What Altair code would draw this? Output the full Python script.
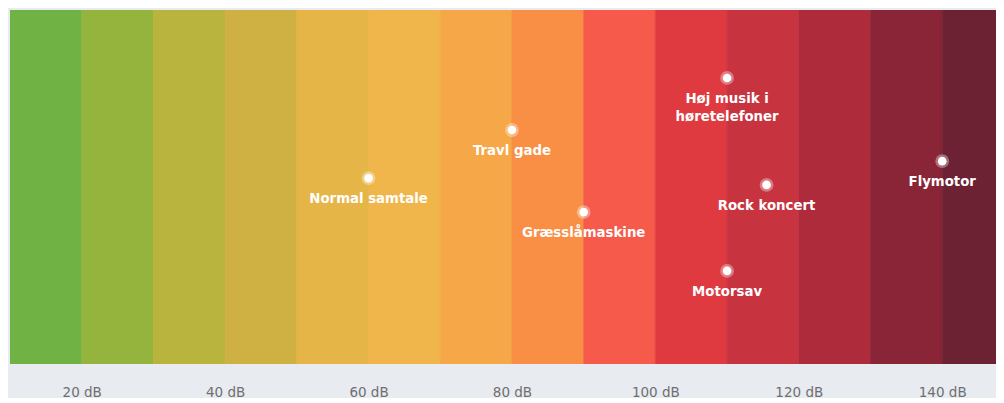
import altair as alt
import pandas as pd

# Bands (10 dB each)
band_start = [10, 20, 30, 40, 50, 60, 70, 80, 90, 100, 110, 120, 130, 140]
band_end = [20, 30, 40, 50, 60, 70, 80, 90, 100, 110, 120, 130, 140, 150]
band_color = ["#70b243", "#95b43e", "#b8b43d", "#cfb043", "#e6b547", "#f0b64b",
              "#f6a747", "#f98e45", "#f55a4b", "#de3a40", "#c7333f", "#ae2b3c",
              "#8a2537", "#6d2233"]

# Sound sources
names = ["Normal samtale", "Travl gade", "Græsslåmaskine", "Høj musik i\nhøretelefoner",
         "Rock koncert", "Motorsav", "Flymotor"]
db = [60, 80, 90, 110, 115.5, 110, 140]
level = [52.5, 66.1, 42.9, 80.8, 50.6, 26.3, 57.3]

tick_values = [20, 40, 60, 80, 100, 120, 140]

bands = pd.DataFrame({"start": band_start, "end": band_end, "color": band_color})
pts = pd.DataFrame({"name": names, "db": db, "level": level})

xscale = alt.Scale(domain=[10, 147.5], nice=False, zero=False)
yscale = alt.Scale(domain=[0, 100], nice=False, zero=False)

base_x_axis = alt.Axis(values=tick_values, labelExpr="datum.value + ' dB'", title=None,
                       domain=False, ticks=False, grid=False, labelPadding=21,
                       labelFont="DejaVu Sans", labelFontSize=13.5, labelColor="#6f6f72")

rects = alt.Chart(bands).mark_rect(clip=True, strokeWidth=0.6).encode(
    x=alt.X("start:Q", scale=xscale, axis=base_x_axis),
    x2="end:Q",
    y=alt.value(0),
    y2=alt.value(354),
    color=alt.Color("color:N", scale=None),
    stroke=alt.Stroke("color:N", scale=None),
)

halo = alt.Chart(pts).mark_circle(color="white", size=190, opacity=0.35).encode(
    x=alt.X("db:Q", scale=xscale),
    y=alt.Y("level:Q", scale=yscale, axis=None),
)

dots = alt.Chart(pts).mark_circle(color="white", size=75, opacity=1).encode(
    x=alt.X("db:Q", scale=xscale),
    y=alt.Y("level:Q", scale=yscale, axis=None),
)

labels = alt.Chart(pts).mark_text(color="white", font="DejaVu Sans", fontSize=13.3,
                                  fontWeight="bold", baseline="top", align="center",
                                  dy=14, lineBreak="\n", lineHeight=18).encode(
    x=alt.X("db:Q", scale=xscale),
    y=alt.Y("level:Q", scale=yscale, axis=None),
    text="name:N",
)

chart = alt.layer(rects, halo, dots, labels).properties(
    width=986, height=354,
    background="#e8ebf0",
    padding={"left": 2, "top": 2, "right": 0, "bottom": 34},
    autosize=alt.AutoSizeParams(type="none"),
).configure_view(stroke=None)

chart.save("out.html", embed_options={"renderer": "svg", "actions": False})
